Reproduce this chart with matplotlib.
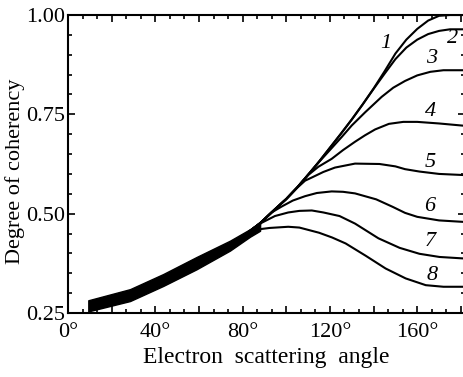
import matplotlib
matplotlib.use("Agg")
import matplotlib.pyplot as plt
from matplotlib.ticker import MultipleLocator, AutoMinorLocator, FuncFormatter

plt.rcParams['font.family'] = ['Liberation Serif', 'DejaVu Serif']

# Thick common part (all curves lie on top of each other)
band_x = [9.3, 28.4, 43.6, 58.9, 74.2, 83.4, 88.0]
band_lo = [0.254, 0.280, 0.318, 0.360, 0.407, 0.442, 0.457]
band_hi = [0.282, 0.310, 0.348, 0.391, 0.432, 0.461, 0.478]

# Curves after they split off
c1_x = [83, 88, 95, 100, 105, 110, 115, 120, 125, 130, 135, 140, 145, 150, 155, 160, 165, 170, 175, 182]
c1_y = [0.455, 0.476, 0.512, 0.537, 0.566, 0.598, 0.631, 0.666, 0.701, 0.737, 0.775, 0.815,
        0.858, 0.903, 0.938, 0.965, 0.986, 0.998, 1.0, 1.0]
c2_x = [83, 88, 95, 100, 105, 110, 115, 120, 125, 130, 135, 140, 145, 150, 155, 160, 165, 170, 175, 182]
c2_y = [0.455, 0.476, 0.512, 0.537, 0.566, 0.598, 0.631, 0.666, 0.701, 0.737, 0.775, 0.814,
        0.852, 0.889, 0.918, 0.938, 0.952, 0.960, 0.964, 0.964]
c3_x = [83, 88, 95, 100, 105, 110, 115, 119.3, 125.4, 130, 136.1, 143.7, 149, 154.4, 160, 166, 172, 182]
c3_y = [0.455, 0.476, 0.512, 0.537, 0.566, 0.598, 0.630, 0.656, 0.693, 0.722, 0.755, 0.794,
        0.817, 0.834, 0.848, 0.857, 0.861, 0.861]
c4_x = [83, 88, 95, 100, 105, 110, 114.7, 120.8, 126, 131.5, 136, 140.7, 147, 153.6, 160, 170, 182]
c4_y = [0.455, 0.476, 0.512, 0.537, 0.566, 0.597, 0.618, 0.638, 0.660, 0.681, 0.697, 0.712,
        0.726, 0.731, 0.731, 0.727, 0.721]
c5_x = [83, 88, 95, 100, 105, 108.6, 111.7, 117, 122.3, 131.5, 142.7, 150, 154.4, 161, 170, 182]
c5_y = [0.455, 0.476, 0.512, 0.537, 0.565, 0.583, 0.591, 0.605, 0.616, 0.626, 0.625, 0.619,
        0.612, 0.606, 0.600, 0.597]
c6_x = [83, 88, 93.3, 97.9, 103, 108.6, 114, 120.8, 126, 131.5, 141.2, 148.8, 154.4, 160, 170, 182]
c6_y = [0.455, 0.475, 0.503, 0.518, 0.533, 0.544, 0.552, 0.556, 0.555, 0.551, 0.536, 0.517,
        0.502, 0.492, 0.483, 0.479]
c7_x = [83, 88.7, 94.8, 100.9, 106, 111.7, 117, 124.4, 131.5, 137, 142.2, 151.9, 161, 170.2, 182]
c7_y = [0.453, 0.477, 0.494, 0.503, 0.507, 0.508, 0.503, 0.494, 0.475, 0.456, 0.438, 0.414,
        0.399, 0.391, 0.387]
c8_x = [83, 88, 92.3, 100.9, 106, 115, 121, 127.2, 136.4, 145.5, 154.7, 163.9, 172, 182]
c8_y = [0.451, 0.461, 0.464, 0.467, 0.465, 0.452, 0.440, 0.425, 0.394, 0.362, 0.337, 0.320,
        0.316, 0.316]

curves = [(c1_x, c1_y), (c2_x, c2_y), (c3_x, c3_y), (c4_x, c4_y),
          (c5_x, c5_y), (c6_x, c6_y), (c7_x, c7_y), (c8_x, c8_y)]

# curve numbers and where they sit
label_text = ['1', '2', '3', '4', '5', '6', '7', '8']
label_x = [145.5, 176, 166.6, 165.9, 165.9, 165.9, 165.9, 166.6]
label_y = [0.929, 0.942, 0.891, 0.757, 0.630, 0.517, 0.429, 0.345]

fig = plt.figure(figsize=(4.63, 3.77), dpi=100)
ax = fig.add_axes([0.1469, 0.1698, 0.858, 0.7904])

ax.fill_between(band_x, band_lo, band_hi, color='black', lw=1.0)
for cx, cy in curves:
    ax.plot(cx, cy, color='black', lw=1.5, solid_capstyle='round',
            solid_joinstyle='round')

for t, lx, ly in zip(label_text, label_x, label_y):
    ax.text(lx, ly, t, fontsize=16, style='italic', ha='center', va='center')

ax.set_xlim(0, 182)
ax.set_ylim(0.25, 1.0)

ax.xaxis.set_major_locator(MultipleLocator(20))
ax.xaxis.set_minor_locator(AutoMinorLocator(3))
ax.xaxis.set_major_formatter(FuncFormatter(
    lambda v, p: ('%d°' % v) if int(round(v)) % 40 == 0 else ''))
ax.yaxis.set_major_locator(MultipleLocator(0.25))
ax.yaxis.set_minor_locator(MultipleLocator(0.05))
ax.yaxis.set_major_formatter(FuncFormatter(lambda v, p: '%.2f' % v))

ax.tick_params(which='both', direction='in', top=True, right=True,
               labelsize=16, width=1.2)
ax.tick_params(which='major', length=5)
ax.tick_params(which='minor', length=3)
ax.tick_params(axis='x', pad=7)
ax.tick_params(axis='y', pad=2)
for s in ax.spines.values():
    s.set_linewidth(1.5)

ax.set_xlabel('Electron  scattering  angle', fontsize=17, labelpad=4)
ax.set_ylabel('Degree of coherency', fontsize=16)
ax.yaxis.set_label_coords(-0.108, 0.475)

fig.savefig('out.png', dpi=100)
